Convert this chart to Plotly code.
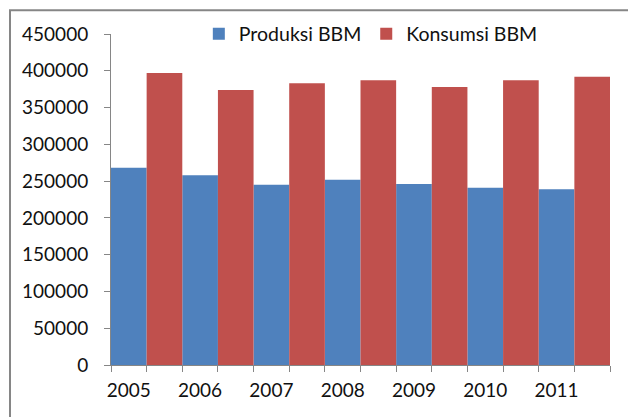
import numpy as np
import plotly.graph_objects as go

years = ["2005", "2006", "2007", "2008", "2009", "2010", "2011"]
produksi = [268000, 258000, 245000, 252000, 246000, 241000, 239000]
konsumsi = [397000, 374000, 383000, 387000, 378000, 387000, 392000]
y_ticks = [0, 50000, 100000, 150000, 200000, 250000, 300000, 350000, 400000, 450000]

idx = np.arange(len(years))
x_prod = 2 * idx
x_kons = 2 * idx + 1

BLUE = "#4F81BD"
RED = "#C0504D"
GRAY = "#868686"
FONT = "Lato"

fig = go.Figure()
fig.add_trace(go.Bar(x=x_prod, y=produksi, width=1, name="Produksi BBM",
                     marker=dict(color=BLUE, line=dict(width=0))))
fig.add_trace(go.Bar(x=x_kons, y=konsumsi, width=1, name="Konsumsi BBM",
                     marker=dict(color=RED, line=dict(width=0))))

fig.update_layout(
    width=628, height=417,
    margin=dict(l=111, r=18, t=34, b=52, autoexpand=False),
    paper_bgcolor="white", plot_bgcolor="white",
    font=dict(family=FONT, size=19, color="#111111"),
    barmode="overlay",
    showlegend=True,
    legend=dict(orientation="h", x=0.176, y=1.0, xanchor="left", yanchor="middle",
                bgcolor="rgba(0,0,0,0)", font=dict(size=19.5, family=FONT),
                itemwidth=30, traceorder="normal"),
    xaxis=dict(range=[-0.5, 2 * len(years) - 0.5],
               tickmode="array", tickvals=list(x_prod), ticktext=years,
               ticks="", showgrid=False, zeroline=False, automargin=False,
               showline=True, linecolor=GRAY, linewidth=1,
               ticklabelstandoff=8,
               minor=dict(tickmode="linear", tick0=-0.5, dtick=1,
                          ticks="outside", ticklen=6, tickcolor=GRAY,
                          showgrid=False)),
    yaxis=dict(range=[0, 450000], tickmode="array", tickvals=y_ticks,
               ticktext=[str(v) for v in y_ticks],
               ticks="outside", ticklen=6, tickcolor=GRAY, automargin=False,
               showgrid=False, zeroline=False,
               showline=True, linecolor=GRAY, linewidth=1,
               ticklabelstandoff=12),
    shapes=[dict(type="rect", xref="paper", yref="paper",
                 x0=-0.2024, x1=1.08, y0=-0.2, y1=1.072,
                 line=dict(color=GRAY, width=2), fillcolor="rgba(0,0,0,0)",
                 layer="above")],
)

fig.write_html("out.html",
               config={"displayModeBar": False},
               post_script="document.body.style.margin='0';document.body.style.overflow='hidden';")
